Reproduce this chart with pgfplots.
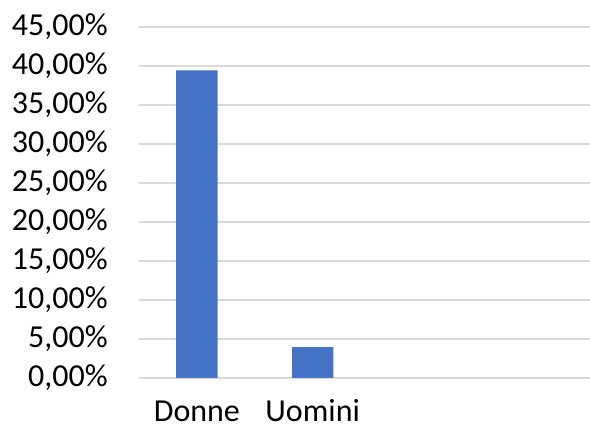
\documentclass[border=0pt]{standalone}
\usepackage{pgfplots}
\pgfplotsset{compat=1.18}
\usepackage{fontspec}
\setmainfont{Carlito}
\definecolor{barblue}{HTML}{4472C4}
\definecolor{gridgray}{HTML}{D9D9D9}
\begin{document}
\begin{tikzpicture}
\useasboundingbox (-69.5bp,-25.5bp) rectangle (225.5bp,189bp);
\begin{axis}[
  at={(0,0)}, anchor=south west,
  scale only axis, width=225.5bp, height=175.5bp,
  font=\fontsize{16bp}{19bp}\selectfont,
  ymin=0, ymax=45, ytick={0,5,...,45},
  xmin=-0.5, xmax=3.395,
  xtick={0,1}, xticklabels={Donne,Uomini},
  axis line style={draw=none},
  major tick length=0pt,
  ymajorgrids, grid style={gridgray, line width=0.8bp},
  /pgf/number format/assume math mode=true,
  yticklabel={\pgfmathprintnumber[fixed,fixed zerofill,precision=2,use comma]{\tick}\%},
  yticklabel style={inner sep=0pt, anchor=east, xshift=-15.5bp},
  xticklabel style={inner sep=0pt, anchor=base, yshift=-21.5bp},
  ybar, bar width=20.65bp, bar shift=0pt,
]
\addplot[fill=barblue, draw=none] coordinates {(0,39.45) (1,3.95)};
\end{axis}
\end{tikzpicture}
\end{document}
